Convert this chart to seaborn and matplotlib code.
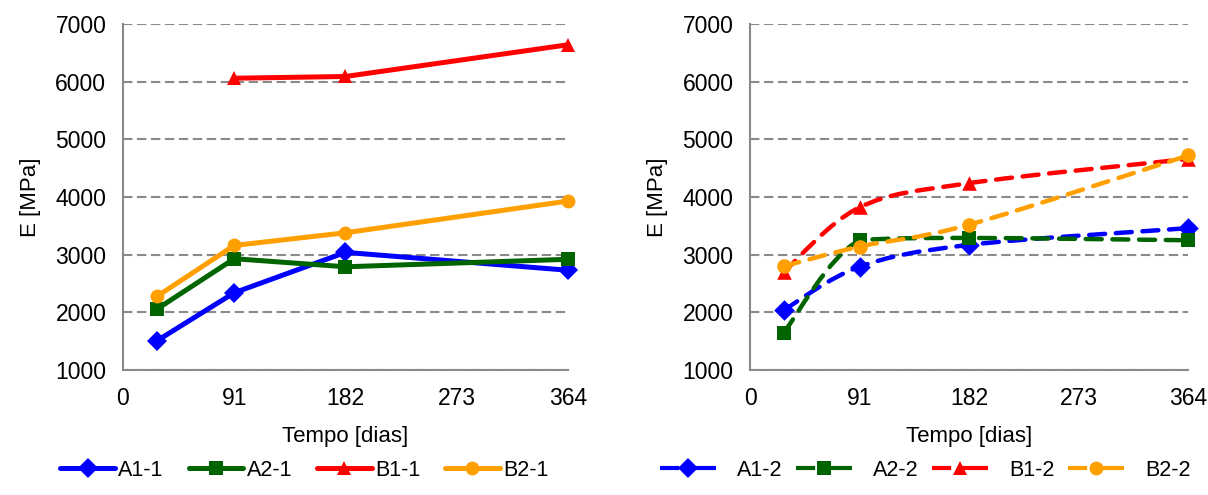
import numpy as np
import pandas as pd
import matplotlib.pyplot as plt
import seaborn as sns
from matplotlib.path import Path
from matplotlib.patches import PathPatch
from matplotlib.lines import Line2D

# Data
dias = [28, 91, 182, 364]
series_1 = ["A1-1", "A2-1", "B1-1", "B2-1"]
series_2 = ["A1-2", "A2-2", "B1-2", "B2-2"]
a1_1 = [1510, 2340, 3040, 2730]
a2_1 = [2060, 2930, 2790, 2920]
b1_1 = [np.nan, 6060, 6090, 6640]
b2_1 = [2280, 3160, 3380, 3930]
a1_2 = [2040, 2790, 3170, 3460]
a2_2 = [1650, 3250, 3290, 3250]
b1_2 = [2700, 3820, 4240, 4660]
b2_2 = [2800, 3140, 3520, 4720]

x_ticks = [0, 91, 182, 273, 364]
y_ticks = [1000, 2000, 3000, 4000, 5000, 6000, 7000]

colors = ["#0000FF", "#006400", "#FF0000", "#FFA000"]
markers = ["D", "s", "^", "o"]

sns.set_style("white", {"text.color": "black", "xtick.color": "black",
                        "ytick.color": "black", "axes.labelcolor": "black"})
plt.rcParams['font.family'] = ['Liberation Sans', 'DejaVu Sans']

df_1 = pd.DataFrame({
    "dias": dias * 4,
    "E": a1_1 + a2_1 + b1_1 + b2_1,
    "serie": np.repeat(series_1, len(dias)),
})
df_2 = pd.DataFrame({
    "dias": dias * 4,
    "E": a1_2 + a2_2 + b1_2 + b2_2,
    "serie": np.repeat(series_2, len(dias)),
})


def smooth_path(x, y):
    # bezier through the points like Excel's "smoothed line",
    # control points kept inside each segment's y range (no overshoot)
    pts = np.column_stack([x, y]).astype(float)
    n = len(pts)
    verts = [pts[0]]
    codes = [Path.MOVETO]
    for i in range(n - 1):
        p0 = pts[max(i - 1, 0)]
        p1 = pts[i]
        p2 = pts[i + 1]
        p3 = pts[min(i + 2, n - 1)]
        c1 = p1 + (p2 - p0) / 6
        c2 = p2 - (p3 - p1) / 6
        lo, hi = min(p1[1], p2[1]), max(p1[1], p2[1])
        c1[1] = np.clip(c1[1], lo, hi)
        c2[1] = np.clip(c2[1], lo, hi)
        verts += [c1, c2, p2]
        codes += [Path.CURVE4] * 3
    return Path(verts, codes)


fig = plt.figure(figsize=(12.08, 4.95), dpi=100)
ax1 = fig.add_axes([0.1018, 0.2525, 0.3684, 0.699])
ax2 = fig.add_axes([0.6209, 0.2525, 0.3626, 0.699])

# Left: solid straight lines
sns.lineplot(data=df_1, x="dias", y="E", hue="serie", style="serie",
             palette=colors, markers=markers, dashes=False, linewidth=3.6,
             markersize=10, markeredgewidth=0, legend=False, ax=ax1,
             clip_on=False, zorder=3)

# Right: dashed smoothed lines
dash = (0, (3.6, 2.4))
for k, name in enumerate(series_2):
    sub = df_2[df_2["serie"] == name]
    patch = PathPatch(smooth_path(sub["dias"], sub["E"]), fill=False,
                      edgecolor=colors[k], linewidth=3.2, linestyle=dash,
                      capstyle="round", zorder=3 + k, clip_on=False)
    ax2.add_patch(patch)
    sns.scatterplot(data=sub, x="dias", y="E", color=colors[k],
                    marker=markers[k], s=110, linewidth=0, ax=ax2,
                    legend=False, zorder=3.5 + k, clip_on=False)

for ax in (ax1, ax2):
    ax.set_xlim(0, 364)
    ax.set_ylim(1000, 7000)
    ax.set_xticks(x_ticks)
    ax.set_yticks(y_ticks)
    ax.grid(axis="y", color="#8a8a8a", linestyle=(0, (4.5, 2.2)), linewidth=1.5)
    ax.grid(axis="x", visible=False)
    for side in ("top", "right"):
        ax.spines[side].set_visible(False)
    for side in ("left", "bottom"):
        ax.spines[side].set_color("#8a8a8a")
        ax.spines[side].set_linewidth(1.5)
    ax.tick_params(axis="both", direction="out", length=6, width=1.5,
                   color="#8a8a8a", labelcolor="black", labelsize=16.5, pad=6)
    ax.set_xlabel("Tempo [dias]", fontsize=16, labelpad=12)
    ax.set_ylabel("E [MPa]", fontsize=16, labelpad=10)

handles_1 = [Line2D([], [], color=c, marker=m, linewidth=3.6, markersize=10,
                    markeredgewidth=0) for c, m in zip(colors, markers)]
handles_2 = [Line2D([], [], color=c, marker=m, linewidth=3,
                    linestyle=(0, (4.6, 2.6, 12, 0)), markersize=10,
                    markeredgewidth=0) for c, m in zip(colors, markers)]

fig.legend(handles_1, series_1, loc="center", bbox_to_anchor=(0.252, 0.05),
           ncol=4, frameon=False, fontsize=15.5, handlelength=2.55,
           handletextpad=0.15, columnspacing=1.15)
fig.legend(handles_2, series_2, loc="center", bbox_to_anchor=(0.766, 0.05),
           ncol=4, frameon=False, fontsize=15.5, handlelength=2.6,
           handletextpad=1.0, columnspacing=0.6)

fig.savefig("out.png", dpi=100)
